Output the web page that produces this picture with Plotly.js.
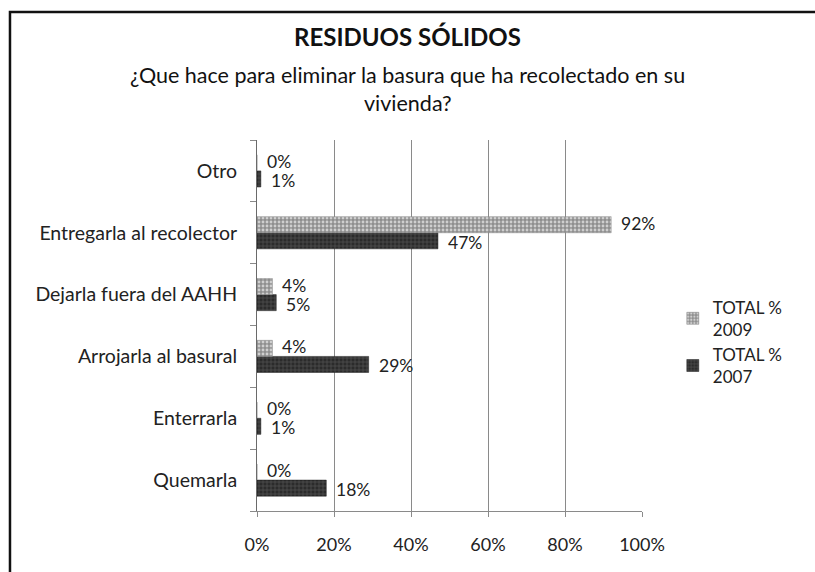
<!DOCTYPE html>
<html>
<head>
<meta charset="utf-8">
<script src="https://cdn.plot.ly/plotly-3.0.1.min.js"></script>
<style>html,body{margin:0;padding:0;background:#fff;}</style>
</head>
<body>
<div id="chart" style="width:815px;height:572px;"></div>
<script>
const categories = ["Quemarla", "Enterrarla", "Arrojarla al basural", "Dejarla fuera del AAHH", "Entregarla al recolector", "Otro"];
const total2009 = [0, 0, 4, 4, 92, 0];
const total2007 = [18, 1, 29, 5, 47, 1];
const xTicks = [0, 20, 40, 60, 80, 100];
const xTickLabels = ["0%", "20%", "40%", "60%", "80%", "100%"];

const FONT = "Lato, 'Open Sans', sans-serif";

const traces = [
  {
    type: "bar", orientation: "h", name: "TOTAL %<br>2007",
    y: categories, x: total2007, textposition: "none",
    marker: {color: "#2b2b2b", line: {color: "#222", width: 0.5},
             pattern: {shape: "+", fgcolor: "#555", bgcolor: "#2b2b2b", size: 4, solidity: 0.3}},
    hoverinfo: "skip"
  },
  {
    type: "bar", orientation: "h", name: "TOTAL %<br>2009",
    y: categories, x: total2009, textposition: "none",
    marker: {color: "#9a9a9a", line: {color: "#888", width: 0.5},
             pattern: {shape: ".", fgcolor: "#cfcfcf", bgcolor: "#8f8f8f", size: 4, solidity: 0.4}},
    hoverinfo: "skip"
  }
];

function labels(vals, yshift) {
  return vals.map((v, i) => ({
    x: v, y: categories[i], xref: "x", yref: "y", text: v + "%",
    showarrow: false, xanchor: "left", yanchor: "middle", xshift: 8, yshift: yshift,
    font: {family: FONT, size: 17.5, color: "#222"}
  }));
}

const layout = {
  width: 815, height: 572,
  margin: {l: 257, r: 173, t: 140, b: 61},
  paper_bgcolor: "#fff", plot_bgcolor: "#fff",
  font: {family: FONT, size: 18, color: "#222"},
  barmode: "group", bargap: 0.48, bargroupgap: 0,
  showlegend: true,
  legend: {x: 1.08, y: 0.455, xanchor: "left", yanchor: "middle", traceorder: "reversed",
           font: {family: FONT, size: 17, color: "#222"}, itemwidth: 30, tracegroupgap: 22},
  xaxis: {range: [0, 100], tickvals: xTicks, ticktext: xTickLabels,
          showgrid: true, gridcolor: "#8a8a8a", gridwidth: 1,
          showline: true, linecolor: "#8a8a8a", linewidth: 1,
          ticks: "outside", ticklen: 5, tickcolor: "#8a8a8a", ticklabelstandoff: 12,
          zeroline: false, tickfont: {family: FONT, size: 18, color: "#222"}},
  yaxis: {type: "category", showgrid: false, showline: true, linecolor: "#6a6a6a", linewidth: 1,
          ticks: "outside", tickson: "boundaries", ticklen: 6, tickcolor: "#8a8a8a",
          ticklabelstandoff: 15,
          tickfont: {family: FONT, size: 19.5, color: "#222"}, zeroline: false},
  annotations: [
    {text: "<b>RESIDUOS SÓLIDOS</b>", xref: "paper", yref: "paper", x: 0.391, y: 1.278,
     showarrow: false, font: {family: FONT, size: 24, color: "#111"}, xanchor: "center", yanchor: "middle"},
    {text: "¿Que hace para eliminar la basura que ha recolectado en su", xref: "paper", yref: "paper", x: 0.391, y: 1.175,
     showarrow: false, font: {family: FONT, size: 21.5, color: "#111"}, xanchor: "center", yanchor: "middle"},
    {text: "vivienda?", xref: "paper", yref: "paper", x: 0.391, y: 1.10,
     showarrow: false, font: {family: FONT, size: 21.5, color: "#111"}, xanchor: "center", yanchor: "middle"}
  ].concat(labels(total2009, 9.5), labels(total2007, -9.5)),
  shapes: [
    {type: "rect", xref: "paper", yref: "paper", x0: -0.6416, x1: 1.5, y0: -0.2, y1: 1.345,
     line: {color: "#111", width: 2.5}, fillcolor: "rgba(0,0,0,0)", layer: "above"}
  ]
};

Plotly.newPlot("chart", traces, layout, {displayModeBar: false, staticPlot: true});
</script>
</body>
</html>
